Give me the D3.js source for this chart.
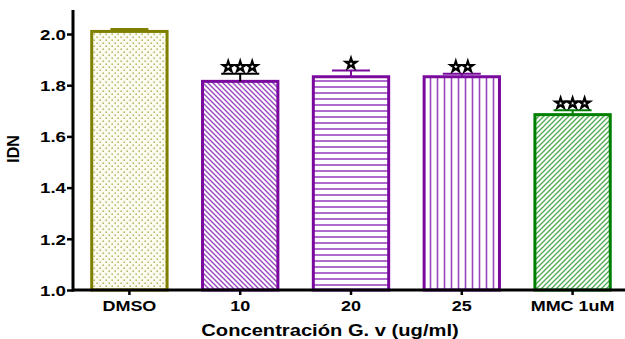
<!DOCTYPE html>
<html>
<head>
<meta charset="utf-8">
<script src="https://cdn.jsdelivr.net/npm/d3@7"></script>
<style>
  body { margin: 0; background: #fff; }
  text { font-family: "Liberation Sans", Arial, sans-serif; font-weight: bold; fill: #000; }
</style>
</head>
<body>
<div id="chart"></div>
<script>
// values
const groups = ["DMSO", "10", "20", "25", "MMC 1uM"];
const means = [2.01, 1.815, 1.833, 1.833, 1.685];
const errors = [0.01, 0.03, 0.024, 0.012, 0.017];
const stars = [0, 3, 1, 2, 3];
const yTicks = [1.0, 1.2, 1.4, 1.6, 1.8, 2.0];

const olive = "#808000", purple = "#7a0a9e", green = "#008000";
const colors = [olive, purple, purple, purple, green];
const patterns = ["dots", "diagDown", "horiz", "vert", "diagUp"];

const svg = d3.select("#chart")
    .append("svg")
    .attr("width", 625)
    .attr("height", 339);

const defs = svg.append("defs");

// dotted fill for DMSO
const pd = defs.append("pattern").attr("id", "dots")
    .attr("patternUnits", "userSpaceOnUse").attr("width", 6).attr("height", 6);
pd.append("rect").attr("width", 6).attr("height", 6).attr("fill", "#fbfbf0");
pd.append("rect").attr("x", 0.5).attr("y", 0.5).attr("width", 1.4).attr("height", 1.4).attr("fill", "#a7a74a");
pd.append("rect").attr("x", 3.5).attr("y", 3.5).attr("width", 1.4).attr("height", 1.4).attr("fill", "#a7a74a");

function linePattern(id, color, size, d, w) {
    const p = defs.append("pattern").attr("id", id)
        .attr("patternUnits", "userSpaceOnUse").attr("width", size).attr("height", size);
    p.append("rect").attr("width", size).attr("height", size).attr("fill", "#fff");
    p.append("path").attr("d", d).attr("stroke", color).attr("stroke-width", w).attr("fill", "none");
}
linePattern("diagDown", "#9a45c0", 5, "M-1,-1 L6,6 M-1,4 L1,6 M4,-1 L6,1", 1.4);
linePattern("horiz", "#9a45c0", 6, "M0,3 L6,3", 1.6);
linePattern("vert", "#9a45c0", 7, "M3.5,0 L3.5,7", 1.6);
linePattern("diagUp", "#4fa84f", 5, "M-1,6 L6,-1 M-1,1 L1,-1 M4,6 L6,4", 1.3);

const x = d3.scaleBand()
    .domain(groups)
    .range([74, 628])
    .paddingInner(0.32)
    .paddingOuter(0.16);

const y = d3.scaleLinear()
    .domain([1.0, 2.0])
    .range([290, 34]);

const g = svg.append("g");

// bars
g.selectAll(".bar")
    .data(groups)
    .enter()
    .append("rect")
    .attr("class", "bar")
    .attr("x", d => x(d))
    .attr("y", (d, i) => y(means[i]))
    .attr("width", x.bandwidth())
    .attr("height", (d, i) => y(1.0) - y(means[i]))
    .attr("fill", (d, i) => "url(#" + patterns[i] + ")")
    .attr("stroke", (d, i) => colors[i])
    .attr("stroke-width", 3);

// error bars (upper only) + stars
groups.forEach(function(d, i) {
    const cx = x(d) + x.bandwidth() / 2;
    const top = y(means[i] + errors[i]);
    const col = i === 1 ? "#000" : colors[i];
    g.append("line")
        .attr("x1", cx).attr("x2", cx)
        .attr("y1", y(means[i])).attr("y2", top)
        .attr("stroke", col).attr("stroke-width", 2);
    g.append("line")
        .attr("x1", cx - 19).attr("x2", cx + 19)
        .attr("y1", top).attr("y2", top)
        .attr("stroke", col).attr("stroke-width", 2);

    const n = stars[i];
    for (let k = 0; k < n; k++) {
        const sx = cx + (k - (n - 1) / 2) * 12;
        g.append("path")
            .attr("d", d3.symbol(d3.symbolStar).size(34)())
            .attr("transform", "translate(" + sx + "," + (top - 7) + ")")
            .attr("fill", "#fff")
            .attr("stroke", "#000")
            .attr("stroke-width", 2.2);
    }
});

// y axis
const yAxis = svg.append("g")
    .attr("transform", "translate(73,0)")
    .call(d3.axisLeft(y).tickValues(yTicks).tickFormat(d3.format(".1f")).tickSize(6).tickSizeOuter(0));
yAxis.select(".domain").remove();
yAxis.append("line")
    .attr("x1", 0).attr("x2", 0).attr("y1", 10).attr("y2", 291.5)
    .attr("stroke", "#000").attr("stroke-width", 3);
yAxis.selectAll(".tick line").attr("stroke-width", 2.5);
yAxis.selectAll(".tick text")
    .attr("font-size", 15)
    .attr("x", -5.6)
    .attr("dy", "0.35em")
    .attr("transform", "scale(1.25,1)")
    .style("font-family", "'Liberation Sans', Arial, sans-serif")
    .style("font-weight", "bold");

// x axis
const xAxis = svg.append("g")
    .attr("transform", "translate(0,290)")
    .call(d3.axisBottom(x).tickSize(5).tickSizeOuter(0));
xAxis.select(".domain").remove();
xAxis.append("line")
    .attr("x1", 72).attr("x2", 625).attr("y1", 0).attr("y2", 0)
    .attr("stroke", "#000").attr("stroke-width", 3);
xAxis.selectAll(".tick line").attr("stroke-width", 2.5);
xAxis.selectAll(".tick text")
    .attr("font-size", 15)
    .attr("y", 10)
    .attr("dy", "0.71em")
    .attr("transform", "scale(1.2,1)")
    .style("font-family", "'Liberation Sans', Arial, sans-serif")
    .style("font-weight", "bold");

// axis titles
svg.append("text")
    .attr("transform", "translate(330,336) scale(1.26,1)")
    .attr("text-anchor", "middle")
    .attr("font-size", 16)
    .text("Concentración G. v (ug/ml)");

svg.append("text")
    .attr("transform", "translate(19,149) rotate(-90)")
    .attr("text-anchor", "middle")
    .attr("font-size", 16)
    .text("IDN");
</script>
</body>
</html>
